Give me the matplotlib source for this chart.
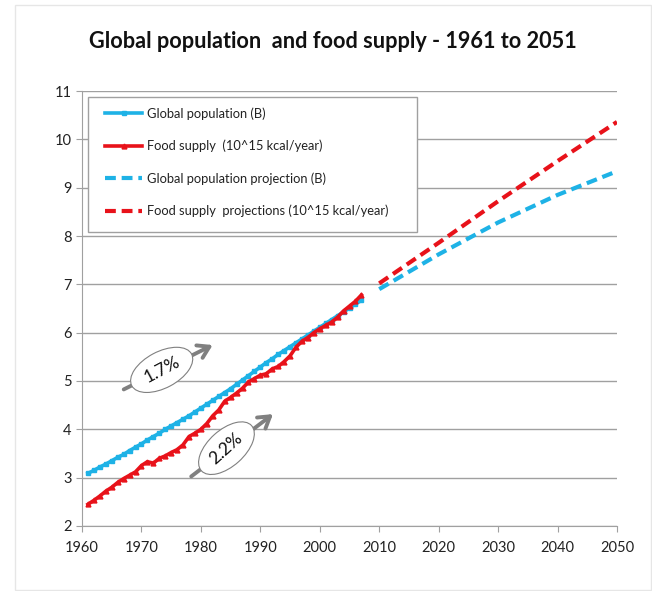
import matplotlib.pyplot as plt
from matplotlib.patches import Rectangle

plt.rcParams['font.family'] = ['Lato', 'DejaVu Sans']

# historical data 1961-2007
years = list(range(1961, 2008))
population = [3.09, 3.15, 3.22, 3.28, 3.35, 3.42, 3.48, 3.56, 3.63, 3.70,
              3.78, 3.85, 3.92, 4.00, 4.07, 4.14, 4.21, 4.28, 4.36, 4.44,
              4.52, 4.60, 4.68, 4.76, 4.84, 4.93, 5.02, 5.11, 5.20, 5.29,
              5.38, 5.46, 5.55, 5.63, 5.71, 5.79, 5.87, 5.95, 6.03, 6.11,
              6.19, 6.27, 6.35, 6.43, 6.51, 6.59, 6.67]
food = [2.45, 2.53, 2.62, 2.72, 2.80, 2.90, 2.98, 3.05, 3.12, 3.25,
        3.33, 3.30, 3.40, 3.45, 3.52, 3.58, 3.68, 3.85, 3.92, 4.00,
        4.12, 4.28, 4.40, 4.58, 4.66, 4.75, 4.85, 4.98, 5.05, 5.12,
        5.15, 5.25, 5.30, 5.40, 5.52, 5.70, 5.82, 5.90, 6.00, 6.08,
        6.15, 6.22, 6.32, 6.45, 6.55, 6.65, 6.78]

# projections 2010-2050
proj_years = [2010, 2020, 2030, 2040, 2050]
pop_proj = [6.90, 7.62, 8.28, 8.85, 9.34]
food_proj = [7.02, 7.86, 8.72, 9.55, 10.36]

blue = '#1eb2e6'
red = '#e8121a'
gray = '#a0a0a0'

fig = plt.figure(figsize=(6.52, 5.91), dpi=100)
ax = fig.add_axes([0.1258, 0.110, 0.8205, 0.736])

# faint frame round the whole chart
fig.patches.append(Rectangle((15 / 652, 0.002), 636 / 652, 0.99, transform=fig.transFigure,
                             fill=False, edgecolor='#e6e6e6', lw=1))

ax.plot(years, population, color=blue, lw=2.6, marker='s', ms=3.2, label='Global population (B)', zorder=3)
ax.plot(years, food, color=red, lw=2.6, marker='^', ms=3.5, label='Food supply  (10^15 kcal/year)', zorder=4)
ax.plot(proj_years, pop_proj, color=blue, lw=3, ls=(0, (2.6, 1.4)), label='Global population projection (B)', zorder=3)
ax.plot(proj_years, food_proj, color=red, lw=3, ls=(0, (2.6, 1.4)), label='Food supply  projections (10^15 kcal/year)', zorder=3)

ax.set_xlim(1960, 2050)
ax.set_ylim(2, 11)
ax.set_xticks(range(1960, 2051, 10))
ax.set_yticks(range(2, 12))
ax.yaxis.grid(True, color=gray, lw=1)
ax.set_axisbelow(True)
for s in ['top', 'right']:
    ax.spines[s].set_visible(False)
for s in ['left', 'bottom']:
    ax.spines[s].set_color(gray)
ax.tick_params(axis='both', colors=gray, labelcolor='#222222', labelsize=10.5, length=4, direction='out')
ax.tick_params(axis='x', pad=7)

fig.text(333 / 652, 1 - 42 / 591, 'Global population  and food supply - 1961 to 2051', fontsize=15.6,
         fontweight='bold', ha='center', va='center', color='#111111')

# legend: frame drawn separately so the inner padding matches
ax.add_patch(Rectangle((0.0112, 0.676), 0.6148, 0.31, transform=ax.transAxes, fill=True,
                       facecolor='white', edgecolor=gray, lw=1, zorder=7))
leg = ax.legend(loc='upper left', bbox_to_anchor=(0.043, 0.963), borderaxespad=0, borderpad=0,
                fontsize=9.3, frameon=False, labelspacing=1.55, handlelength=2.9, handletextpad=0.38)
leg.set_zorder(8)
for t in leg.get_texts():
    t.set_color('#222222')

# growth-rate arrows
arrow_kw = dict(arrowstyle='->,head_length=0.8,head_width=0.5', color='#808080', lw=2.8)
ax.annotate('', xy=(1982.4, 5.77), xytext=(1966.6, 4.80), arrowprops=arrow_kw, zorder=5)
ax.annotate('', xy=(1992.5, 4.35), xytext=(1978.0, 2.99), arrowprops=arrow_kw, zorder=5)
box = dict(boxstyle='ellipse,pad=0.28', fc='white', ec='#808080', lw=0.8)
ax.text(1973.4, 5.23, '1.7%', rotation=28, fontsize=12.5, ha='center', va='center', bbox=box,
        zorder=6, rotation_mode='anchor', color='#111111')
ax.text(1984.3, 3.61, '2.2%', rotation=42, fontsize=12.5, ha='center', va='center', bbox=box,
        zorder=6, rotation_mode='anchor', color='#111111')

fig.savefig('out.png', dpi=100)
